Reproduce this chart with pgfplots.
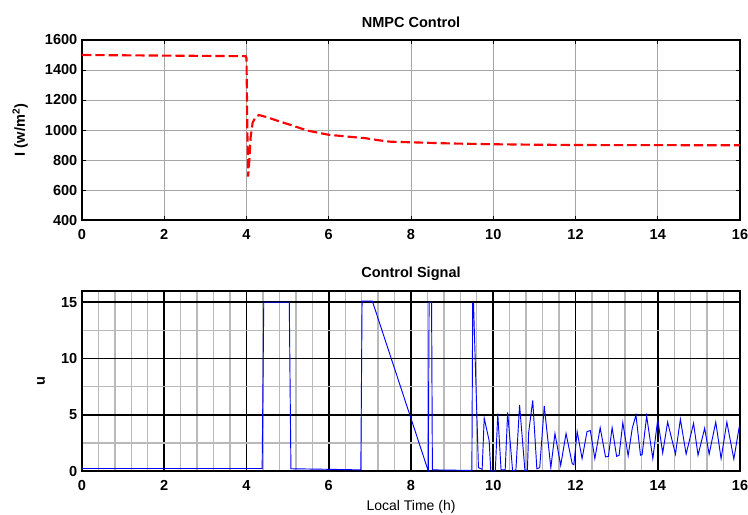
\documentclass[border=0pt]{standalone}
\usepackage{fontspec}
\setmainfont{Liberation Sans}
\usepackage{pgfplots}
\pgfplotsset{compat=1.18}

\pgfplotstableread{
x y
0 1500
1 1498
2 1496
3 1494
3.98 1492
4.0 1480
4.02 1000
4.04 690
4.07 800
4.1 950
4.15 1050
4.22 1085
4.3 1100
4.5 1085
4.75 1062
5 1040
5.5 995
6 968
6.5 955
6.9 945
7.2 932
7.5 922
8 918
9 910
10 905
11 902
12 900
13 899
14 899
16 898
}\irr

\pgfplotstableread{
x u
0 0.22
4.38 0.22
4.42 15
5.04 15
5.08 0.2
6.0 0.15
6.78 0.1
6.81 15.1
7.06 15.1
8.42 0
8.44 15
8.5 15
8.52 0.1
9.48 0.05
9.5 14.9
9.52 14.9
9.64 0.3
9.73 0.15
9.78 4.7
9.9 2.7
9.94 0
10.05 0
10.11 5.1
10.19 0.1
10.29 0.1
10.35 5.2
10.47 0.05
10.55 0.05
10.64 5.87
10.77 0.05
10.83 0.05
10.86 3.4
10.96 6.28
11.06 0.2
11.13 0.3
11.24 5.78
11.4 0.3
11.5 3.33
11.64 0.5
11.77 3.33
11.92 0.65
11.96 0.56
12.04 3.5
12.16 1.1
12.28 3.5
12.36 3.6
12.47 1.1
12.6 3.85
12.73 1.25
12.8 1.3
12.89 3.85
13.0 1.3
13.06 1.4
13.15 4.3
13.28 1.35
13.38 3.8
13.47 4.97
13.58 1.4
13.62 1.45
13.73 4.88
13.88 1.1
14.0 4.6
14.12 1.6
14.24 4.35
14.43 1.5
14.55 4.6
14.69 1.5
14.87 4.24
14.98 1.4
15.14 3.8
15.25 1.5
15.41 4.35
15.54 1.1
15.68 4.35
15.85 1.06
15.98 3.9
16 3.95
}\ctrl

\pgfplotsset{
  mlab/.style={
    scale only axis, width=493.5pt, height=135pt,
    xmin=0, xmax=16, xtick={0,2,...,16},
    axis line style={line width=1.1pt},
    tick align=inside, major tick length=3pt, minor tick length=0pt,
    tick style={black, line width=0.6pt},
    tick label style={font=\bfseries\fontsize{10.9}{12}\selectfont},
    /pgf/number format/assume math mode=true,
    /pgf/number format/1000 sep={},
    title style={font=\bfseries\fontsize{10.9}{12}\selectfont},
    ylabel style={font=\bfseries\fontsize{10.9}{12}\selectfont, anchor=center},
    xticklabel style={yshift=-3.5pt},
  }
}

\begin{document}
\begin{tikzpicture}
\useasboundingbox (0,0) rectangle (561pt,385.5pt);

\begin{axis}[mlab,
  at={(61.5pt,220.5pt)}, anchor=south west,
  ymin=400, ymax=1600, ytick={400,600,...,1600},
  ymajorgrids, xmajorgrids,
  major grid style={gray!70, line width=0.6pt},
  title={NMPC Control},
  title style={yshift=0pt},
  ylabel={I (w/m\textsuperscript{2})},
  ylabel style={at={(axis description cs:-0.094,0.5)}},
]
\addplot[red, line width=1.6pt, dash pattern=on 7pt off 3pt] table[x=x,y=y]{\irr};
\end{axis}

\begin{axis}[mlab,
  at={(61.5pt,32.25pt)}, anchor=south west,
  ymin=0, ymax=16, ytick={0,5,10,15},
  minor x tick num=4, minor ytick={2.5,7.5,12.5},
  grid=both,
  major grid style={black, line width=1.4pt},
  minor grid style={gray!55, line width=1pt},
  title={Control Signal},
  title style={yshift=-2pt},
  ylabel={u},
  ylabel style={at={(axis description cs:-0.062,0.5)}},
  xlabel={Local Time (h)},
  xlabel style={font=\fontsize{10.5}{12}\selectfont, yshift=-0.5pt},
]
\addplot[blue, line width=0.7pt] table[x=x,y=u]{\ctrl};
\end{axis}
\end{tikzpicture}
\end{document}
